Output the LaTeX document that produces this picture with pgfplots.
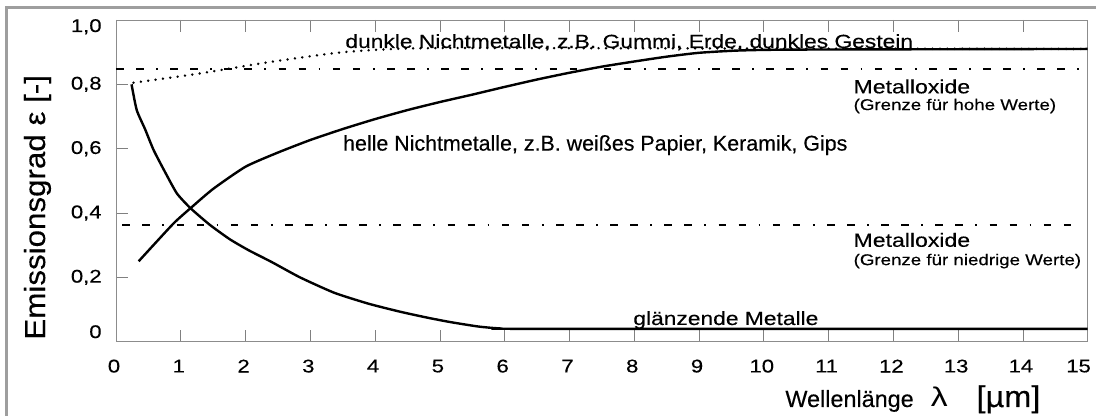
\documentclass[border=0pt]{standalone}
\usepackage{fontspec}
\setmainfont[FakeBold=0.3]{Liberation Sans}
\newfontfamily\wfont[FakeStretch=1.2,FakeBold=0.3]{Liberation Sans}
\newfontfamily\lfont[FakeStretch=1.08,FakeBold=0.3]{Liberation Sans}
\newfontfamily\lamfont[FakeStretch=1.25]{Liberation Sans}
\usepackage{pgfplots}
\pgfplotsset{compat=1.18}
\begin{document}
\begin{tikzpicture}
\useasboundingbox (-58pt,-37.15pt) rectangle (490pt,170.85pt);
\draw[line width=1.5pt, color=black!38] (-54.5pt,-45pt) -- (-54.5pt,166.85pt) -- (500pt,166.85pt);
\begin{axis}[
  scale only axis, width=485.85pt, height=160.85pt,
  xmin=0, xmax=15, ymin=0, ymax=1,
  axis line style={black!45, line width=0.4pt},
  tick style={black!50, line width=0.4pt},
  major tick length=6pt,
  tick align=inside,
  xtick pos=both, ytick pos=left,
  xtick={0,1,2,3,4,5,6,7,8,9,10,11,12,13,14},
  xticklabels={0,1,2,3,4,5,6,7,8,9,10,11,12,13,14},
  extra x ticks={14.89},
  extra x tick labels={15},
  extra x tick style={major tick length=0pt},
  ytick={0.2,0.4,0.6,0.8},
  yticklabels={{0,2},{0,4},{0,6},{0,8}},
  extra y ticks={0.031,0.979},
  extra y tick labels={0,{1,0}},
  extra y tick style={major tick length=0pt},
  xticklabel style={font=\wfont\fontsize{9.2}{10}\selectfont, anchor=center, yshift=-12.2pt, xshift=-1pt, inner sep=0pt},
  yticklabel style={font=\wfont\fontsize{9.2}{10}\selectfont, anchor=east, xshift=-7pt, inner sep=0pt},
  clip=false,
]
% dash-dot limits for metal oxides
\addplot[black, line width=1pt, dash pattern=on 3.8pt off 6.2pt on 3.8pt off 6.2pt on 0.9pt off 6.2pt] coordinates {(0,0.848) (14.9,0.848)};
\addplot[black, line width=1pt, dash pattern=on 3.8pt off 6.2pt on 3.8pt off 6.2pt on 0.9pt off 6.2pt] coordinates {(0.1,0.363) (14.9,0.363)};
% dark non-metals (dotted)
\addplot[black, line width=1.35pt, line cap=round, dash pattern=on 0.01pt off 3.7pt, smooth, tension=0.4] coordinates {
  (0.27,0.805) (1.3,0.834) (2.33,0.868) (3.46,0.899) (4.4,0.911) (5.5,0.913) (8,0.912) (15,0.91)};
% bright non-metals
\addplot[black, line width=1.2pt, smooth, tension=0.35] coordinates {
  (0.35,0.25) (0.6,0.305) (0.9,0.37) (1.15,0.415) (1.5,0.475) (2.0,0.544) (2.5,0.588) (3,0.627) (3.5,0.661)
  (4,0.692) (4.5,0.72) (5,0.745) (5.5,0.768) (6,0.792) (6.5,0.815) (7,0.836) (7.5,0.855) (8,0.871) (8.5,0.886) (9,0.898) (9.6,0.905) (10.5,0.908) (15,0.91)};
% shiny metals
\addplot[black, line width=1.2pt, smooth, tension=0.35] coordinates {
  (0.24,0.80) (0.32,0.72) (0.45,0.66) (0.58,0.596) (0.75,0.53) (0.94,0.461) (1.15,0.415) (1.45,0.363)
  (1.76,0.318) (2.05,0.284) (2.4,0.248) (2.84,0.2) (3.37,0.152) (3.9,0.118) (4.39,0.093) (4.8,0.075) (5.16,0.061)
  (5.6,0.047) (5.95,0.041) (6.5,0.04) (15,0.04)};
\node[anchor=base west, inner sep=0pt, font=\wfont\fontsize{9.5}{11}\selectfont] at (axis cs:3.535,0.913) {dunkle Nichtmetalle, z.B. Gummi, Erde, dunkles Gestein};
\node[anchor=base west, inner sep=0pt, font=\fontsize{10.7}{12}\selectfont] at (axis cs:3.50,0.594) {helle Nichtmetalle, z.B. weißes Papier, Keramik, Gips};
\node[anchor=base west, inner sep=0pt, font=\wfont\fontsize{9.6}{11}\selectfont] at (axis cs:11.38,0.772) {Metalloxide};
\node[anchor=base west, inner sep=0pt, font=\wfont\fontsize{7.8}{9}\selectfont] at (axis cs:11.38,0.72) {(Grenze für hohe Werte)};
\node[anchor=base west, inner sep=0pt, font=\wfont\fontsize{9.6}{11}\selectfont] at (axis cs:11.38,0.295) {Metalloxide};
\node[anchor=base west, inner sep=0pt, font=\wfont\fontsize{7.8}{9}\selectfont] at (axis cs:11.38,0.238) {(Grenze für niedrige Werte)};
\node[anchor=base west, inner sep=0pt, font=\wfont\fontsize{9.5}{11}\selectfont] at (axis cs:7.98,0.052) {glänzende Metalle};
\end{axis}
\node[anchor=base west, inner sep=0pt, font=\fontsize{11.7}{13}\selectfont] at (334.5pt,-32.65pt) {Wellenlänge\hspace{8.5pt}{\lamfont\fontsize{13.5}{14}\selectfont λ}\hspace{14.5pt}{\lfont\fontsize{15}{15}\selectfont [µm]}};
\node[rotate=90, anchor=base west, inner sep=0pt, font=\lfont\fontsize{14.5}{16}\selectfont] at (-35.5pt,0.85pt) {Emissionsgrad ε [-]};
\end{tikzpicture}
\end{document}
